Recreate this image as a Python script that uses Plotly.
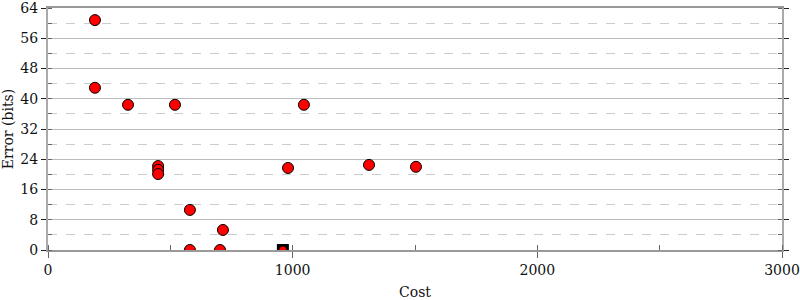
import plotly.graph_objects as go

cost = [192, 192, 327, 519, 1046, 450, 450, 450, 580, 715, 580, 703, 981, 1312, 1504]
error = [60.8, 42.9, 38.4, 38.4, 38.4, 22.2, 21.2, 20.1, 10.6, 5.3, 0, 0, 21.7, 22.5, 22.0]
best_cost = [960]
best_error = [0]
x_ticks = [0, 1000, 2000, 3000]
y_ticks = [0, 8, 16, 24, 32, 40, 48, 56, 64]

font = "DejaVu Serif"
fig = go.Figure()
fig.add_trace(go.Scatter(x=best_cost, y=best_error, mode="markers",
                         marker=dict(symbol="square", size=12, color="black"),
                         showlegend=False))
fig.add_trace(go.Scatter(x=best_cost, y=best_error, mode="markers",
                         marker=dict(symbol="circle", size=7, color="red"),
                         showlegend=False))
fig.add_trace(go.Scatter(x=cost, y=error, mode="markers",
                         marker=dict(symbol="circle", size=11, color="red",
                                     line=dict(color="black", width=1)),
                         showlegend=False))

fig.update_layout(
    width=800, height=300,
    margin=dict(l=48, r=18, t=8, b=50),
    plot_bgcolor="white", paper_bgcolor="white",
    font=dict(family=font, size=14, color="#111"),
    xaxis=dict(range=[0, 3000], tickvals=x_ticks, showgrid=False,
               automargin=False, ticklabeloverflow="allow",
               zeroline=False, showline=True, linecolor="#999", linewidth=2,
               mirror=True, ticks="outside", ticklen=6, tickcolor="#666",
               title=dict(text="Cost", font=dict(size=14), standoff=18),
               minor=dict(dtick=500, tick0=0, ticks="inside", ticklen=5,
                          tickcolor="#666", showgrid=False)),
    yaxis=dict(range=[0, 64], tickvals=y_ticks, showgrid=True,
               automargin=False, ticklabeloverflow="allow",
               gridcolor="#bbb", gridwidth=1, zeroline=False,
               showline=True, linecolor="#aaa", linewidth=2, mirror="ticks",
               ticks="outside", ticklen=5, tickcolor="#222",
               title=dict(text="Error (bits)", font=dict(size=14), standoff=8),
               minor=dict(dtick=4, tick0=0, ticks="inside", ticklen=4,
                          tickcolor="#666", showgrid=True, gridcolor="#ccc",
                          griddash="dash")),
)
fig.write_html("out.html")
